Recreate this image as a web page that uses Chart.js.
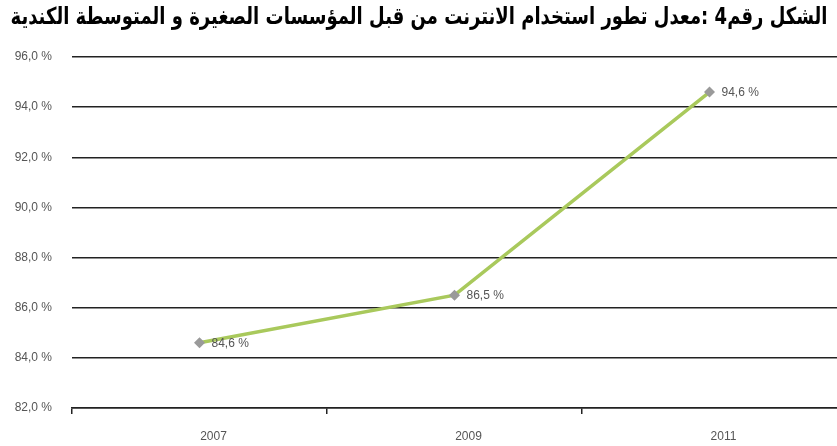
<!DOCTYPE html>
<html>
<head>
<meta charset="utf-8">
<script src="https://cdn.jsdelivr.net/npm/chart.js@4"></script>
<style>
html,body{margin:0;padding:0;background:#fff;overflow:hidden;}
#wrap{width:837px;height:446px;position:relative;}
</style>
</head>
<body>
<div id="wrap"><canvas id="c"></canvas></div>
<script>
const titleText = "الشكل رقم4 :معدل تطور استخدام الانترنت من قبل المؤسسات الصغيرة و المتوسطة الكندية";
const categories = ["2007", "2009", "2011"];
const values = [84.6, 86.5, 94.6];
const valueLabels = ["84,6 %", "86,5 %", "94,6 %"];
const yTicks = [82, 84, 86, 88, 90, 92, 94, 96];

function fmt(v){ return v.toFixed(1).replace('.', ',') + ' %'; }

const titlePlugin = {
  id: 'arTitle',
  afterDraw(chart){
    const ctx = chart.ctx;
    ctx.save();
    let size = 22;
    ctx.direction = 'rtl';
    ctx.font = 'bold ' + size + 'px "DejaVu Sans"';
    const w = ctx.measureText(titleText).width;
    size = size * 818 / w;
    ctx.font = 'bold ' + size + 'px "DejaVu Sans"';
    ctx.fillStyle = '#000';
    ctx.textAlign = 'center';
    ctx.textBaseline = 'middle';
    ctx.translate(419, 18);
    ctx.scale(1, 1.3);
    ctx.fillText(titleText, 0, 0);
    ctx.restore();
  }
};

const labelPlugin = {
  id: 'ptLabels',
  afterDatasetsDraw(chart){
    const ctx = chart.ctx;
    const meta = chart.getDatasetMeta(0);
    ctx.save();
    ctx.font = '12px "Liberation Sans", Arial, sans-serif';
    ctx.fillStyle = '#555';
    ctx.textAlign = 'left';
    ctx.textBaseline = 'middle';
    meta.data.forEach((pt, i) => {
      ctx.fillText(valueLabels[i], pt.x + 12, pt.y + 1);
    });
    ctx.restore();
  }
};

new Chart(document.getElementById('c'), {
  type: 'line',
  data: {
    labels: categories,
    datasets: [{
      data: values,
      borderColor: '#a9c95c',
      borderWidth: 3.5,
      pointStyle: 'rectRot',
      pointRadius: 5.5,
      pointBackgroundColor: '#9a9a9a',
      pointBorderColor: '#9a9a9a',
      pointBorderWidth: 0,
      tension: 0
    }]
  },
  options: {
    responsive: true,
    maintainAspectRatio: false,
    animation: false,
    devicePixelRatio: 1,
    layout: { autoPadding: false, padding: { top: 57, left: 0, right: 0, bottom: 0 } },
    plugins: { legend: { display: false }, title: { display: false }, tooltip: { enabled: false } },
    scales: {
      x: {
        type: 'category',
        offset: true,
        afterFit(scale){ scale.height = 38; },
        grid: {
          offset: true, drawOnChartArea: false, drawTicks: true, tickLength: 6, lineWidth: 1.5,
          color: c => c.type === 'tick' ? '#222' : 'rgba(0,0,0,0)'
        },
        border: { display: true, color: '#222', width: 1.5 },
        ticks: { padding: 15, labelOffset: 14, color: '#555', font: { family: '"Liberation Sans", Arial, sans-serif', size: 12 } }
      },
      y: {
        min: 82, max: 96,
        afterBuildTicks(scale){ scale.ticks = yTicks.map(v => ({ value: v })); },
        afterFit(scale){ scale.width = 72; },
        grid: { drawTicks: false, color: '#222', lineWidth: 1.5 },
        border: { display: false },
        ticks: { padding: 20, color: '#555', font: { family: '"Liberation Sans", Arial, sans-serif', size: 12 }, callback: v => fmt(v) }
      }
    }
  },
  plugins: [titlePlugin, labelPlugin]
});
</script>
</body>
</html>
